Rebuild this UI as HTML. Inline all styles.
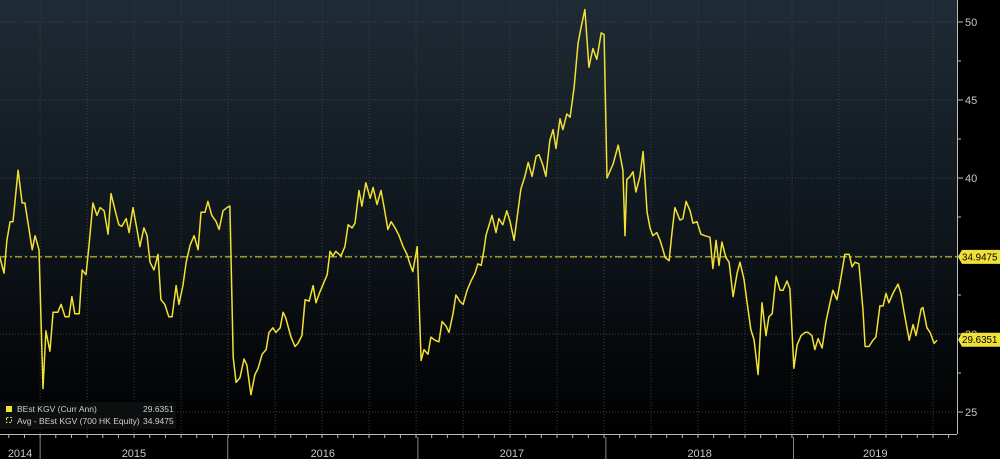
<!DOCTYPE html>
<html><head><meta charset="utf-8"><style>
html,body{margin:0;padding:0;background:#000;width:1000px;height:459px;overflow:hidden}
svg{display:block;font-family:"Liberation Sans",sans-serif}
</style></head><body>
<svg id="chart" width="1000" height="459">
<defs><linearGradient id="bg" x1="0" y1="0" x2="0" y2="1">
<stop offset="0" stop-color="#1f2b35"/><stop offset="0.55" stop-color="#0e151b"/><stop offset="1" stop-color="#000"/></linearGradient></defs>
<rect x="0" y="0" width="957" height="434" fill="url(#bg)"/>
<g id="grid"></g>
<g id="avg"></g>
<g id="series"></g>
<g id="yaxis"></g>
<g id="xaxis"></g>
<g>
<rect x="0" y="402" width="176" height="27" fill="#0d0f11" opacity="0.9"/>
<rect x="6" y="406" width="6" height="6" fill="#f2e234"/>
<text x="17" y="412" font-size="8.5" fill="#cfcfcf">BEst KGV (Curr Ann)</text>
<text x="143" y="412" font-size="8.5" fill="#cfcfcf">29.6351</text>
<rect x="6.5" y="417.5" width="5" height="5" fill="none" stroke="#e8d84a" stroke-dasharray="2,1.5"/>
<text x="17" y="424" font-size="8.5" fill="#cfcfcf">Avg - BEst KGV (700 HK Equity)</text>
<text x="143" y="424" font-size="8.5" fill="#cfcfcf">34.9475</text>
</g>
</svg>
<script>
const weeks=[0,1.1,1.9,2.8,3.6,5.0,6.1,6.9,8.9,9.7,10.8,11.9,12.7,13.8,14.7,16.0,16.9,18.0,19.1,19.9,20.7,21.9,22.7,23.8,24.6,25.7,26.8,27.7,28.8,29.9,30.7,32.1,32.9,33.7,34.9,35.7,36.8,37.9,38.7,39.8,40.7,41.5,42.6,43.7,44.5,45.6,46.7,47.6,48.7,49.5,50.6,51.5,52.6,53.7,54.8,55.6,56.7,57.5,58.6,59.8,60.6,61.7,62.8,63.6,64.5,65.3,66.4,67.5,68.3,69.4,70.5,71.4,72.5,73.6,74.4,75.5,76.3,77.5,78.3,79.1,80.5,81.6,82.4,83.5,84.4,85.5,86.6,87.4,88.5,90.5,91.3,92.1,92.9,94.3,95.4,96.3,97.4,98.2,99.3,100.1,101.2,102.4,103.2,104.3,105.4,106.2,107.3,108.2,109.3,110.4,111.5,112.6,113.4,114.2,115.4,116.5,117.3,118.4,119.2,120.3,121.4,122.3,123.4,124.2,125.3,126.1,127.2,128.1,129.2,130.3,131.4,132.2,133.1,133.9,134.4,136.1,137.2,138.0,139.1,140.2,141.1,142.2,143.3,144.1,145.2,146.1,147.2,148.3,149.1,150.2,151.0,152.1,153.0,153.8,154.9,155.7,156.8,157.7,158.8,159.9,160.7,161.8,162.9,164.0,165.1,166.3,167.1,167.9,169.6,171.0,172.3,172.9,173.4,174.3,175.1,175.9,177.0,177.9,179.0,179.8,180.6,181.7,182.6,183.4,184.0,185.1,185.9,186.7,188.1,188.9,189.8,190.9,191.7,192.8,193.9,195.0,196.4,197.2,198.1,198.9,199.7,200.8,201.7,202.8,203.9,204.7,205.8,206.6,207.7,208.6,209.7,210.8,211.9,212.7,213.6,214.7,215.8,216.6,217.7,218.5,219.6,220.5,221.6,222.7,223.5,224.6,225.4,226.3,227.4,228.5,229.6,230.4,231.5,232.4,233.2,233.7,234.9,235.7,236.5,237.6,238.7,239.3,240.4,241.5,242.3,243.4,244.3,245.1,245.9,247.0,248.4,249.2,250.1,251.5,252.6,253.4,254.8,255.3,256.4,257.3,258.4,259.2];
const peValues=[34.9,33.9,36.0,37.2,37.2,40.5,38.4,38.4,35.4,36.3,35.4,26.5,30.2,28.9,31.4,31.4,31.9,31.1,31.1,32.4,31.3,31.3,34.1,33.8,35.6,38.4,37.6,38.1,37.9,36.4,39.0,37.7,37.0,36.9,37.4,36.5,38.1,36.7,35.6,36.8,36.3,34.6,34.1,35.1,32.2,31.9,31.1,31.1,33.1,31.9,33.1,34.6,35.7,36.3,35.4,37.8,37.8,38.5,37.6,37.2,36.7,37.9,38.1,38.2,28.5,26.9,27.2,28.4,28.0,26.1,27.4,27.8,28.7,29.0,30.1,30.4,30.1,30.4,31.4,31.0,29.8,29.2,29.4,29.9,32.2,32.1,33.1,32.0,32.7,33.8,35.3,35.0,35.3,35.0,35.6,37.0,36.8,37.1,39.2,38.2,39.7,38.7,39.4,38.3,39.2,38.2,36.7,37.2,36.8,36.3,35.6,35.1,34.5,34.0,35.6,28.3,29.0,28.7,29.8,29.6,29.5,30.8,30.5,30.1,31.3,32.5,32.1,31.9,32.8,33.4,33.9,34.5,34.4,35.4,36.3,37.6,36.5,37.4,37.0,37.9,37.2,36.0,37.9,39.3,40.1,41.0,40.1,41.4,41.5,40.8,40.1,42.4,43.1,41.9,43.8,43.1,44.1,43.9,45.8,48.6,49.6,50.8,47.1,48.3,47.6,49.3,49.2,40.0,40.9,42.1,40.5,36.3,39.9,40.1,40.4,39.1,40.1,41.7,37.8,36.8,36.3,36.5,36.0,35.4,34.9,34.7,36.5,38.1,37.3,37.4,38.5,37.9,37.1,37.2,36.4,36.3,36.2,34.2,36.0,34.4,35.9,34.9,34.6,32.4,33.9,34.6,33.5,32.1,30.3,29.6,27.4,32.0,29.9,31.1,31.3,33.7,32.8,32.8,33.4,32.9,27.8,29.3,29.9,30.1,30.1,29.9,29.0,29.7,29.1,30.8,32.0,32.8,32.2,33.3,34.4,35.1,35.1,34.3,34.6,34.5,31.6,29.2,29.2,29.6,29.8,31.8,31.8,32.6,32.0,32.6,33.2,32.6,31.4,29.6,30.6,29.9,31.6,31.7,30.4,30.1,29.4,29.6];
const avgValue=34.9475;
const lastValue=29.6351;
const yTicks=[25,30,35,40,45,50];
const yearLabels=["2014","2015","2016","2017","2018","2019"];
const yearStartWeeks=[-11.1,11.1,63.0,115.6,167.6,219.5];
const NS="http://www.w3.org/2000/svg";
const W_PX=3.615, X0=0;
function xs(w){return X0+w*W_PX;}
function ys(v){return 22+(50-v)*15.6;}
function mk(tag,attrs,parent){const e=document.createElementNS(NS,tag);for(const k in attrs)e.setAttribute(k,attrs[k]);parent.appendChild(e);return e;}
const grid=document.getElementById('grid');
yTicks.forEach(t=>{const l=mk('line',{x1:0,x2:957,y1:ys(t),y2:ys(t),stroke:'#3a4148','stroke-width':1,'stroke-dasharray':'1,2'},grid);

});
for(let k=0;k<20;k++){const wk=yearStartWeeks[1]+k*13;const x=xs(wk);if(x>957)break;
const l=mk('line',{x1:x,x2:x,y1:0,y2:434,stroke:'#3a4148','stroke-width':1,'stroke-dasharray':'1,2'},grid);

}
const avg=document.getElementById('avg');
const al=mk('line',{x1:0,x2:957,y1:ys(avgValue),y2:ys(avgValue),stroke:'#e6d640','stroke-width':1,'stroke-dasharray':'7,3,2,3'},avg);


const pts=weeks.map((w,i)=>xs(w).toFixed(1)+','+ys(peValues[i]).toFixed(1)).join(' ');
const pl=mk('polyline',{points:pts,fill:'none',stroke:'#f2e234','stroke-width':1.5,'stroke-linejoin':'round'},document.getElementById('series'));


const ya=document.getElementById('yaxis');
mk('rect',{x:957,y:0,width:43,height:459,fill:'#000'},ya);
mk('line',{x1:957.5,x2:957.5,y1:0,y2:434,stroke:'#bbb','stroke-width':1},ya);
for(let v=25;v<=52.5;v+=2.5){const y=ys(v);const major=(v%5===0);
mk('line',{x1:957,x2:major?963:961,y1:y,y2:y,stroke:'#bbb','stroke-width':1},ya);}
yTicks.forEach(t=>{const tx=mk('text',{x:965,y:ys(t)+4,'font-size':11,fill:'#c8c8c8'},ya);tx.textContent=t;

});
function tag(v,name){const y=ys(v);const g=mk('g',{},ya);


mk('path',{d:`M958,${y} L962,${y-7} L1000,${y-7} L1000,${y+7} L962,${y+7} Z`,fill:'#efe13a'},g);
const t=mk('text',{x:962,y:y+3.5,'font-size':9.8,fill:'#000'},g);t.textContent=v.toFixed(4);}
tag(avgValue,'avg-value-tag');
tag(lastValue,'last-value-tag');
const xa=document.getElementById('xaxis');
mk('line',{x1:0,x2:957,y1:434.5,y2:434.5,stroke:'#bbb','stroke-width':1},xa);
for(let w=yearStartWeeks[1]-52;w<265;w+=4.333){const x=xs(w);if(x<0||x>957)continue;mk('line',{x1:x,x2:x,y1:434,y2:438,stroke:'#bbb','stroke-width':1},xa);}
yearLabels.forEach((lab,i)=>{const s=Math.max(0,xs(yearStartWeeks[i]));const e=i<yearLabels.length-1?xs(yearStartWeeks[i+1]):957;
if(i>0){mk('line',{x1:s,x2:s,y1:437,y2:459,stroke:'#888','stroke-width':1},xa);}
const t=mk('text',{x:(s+e)/2,y:457,'font-size':11,fill:'#c8c8c8','text-anchor':'middle'},xa);t.textContent=lab;

});
</script>
</body></html>
